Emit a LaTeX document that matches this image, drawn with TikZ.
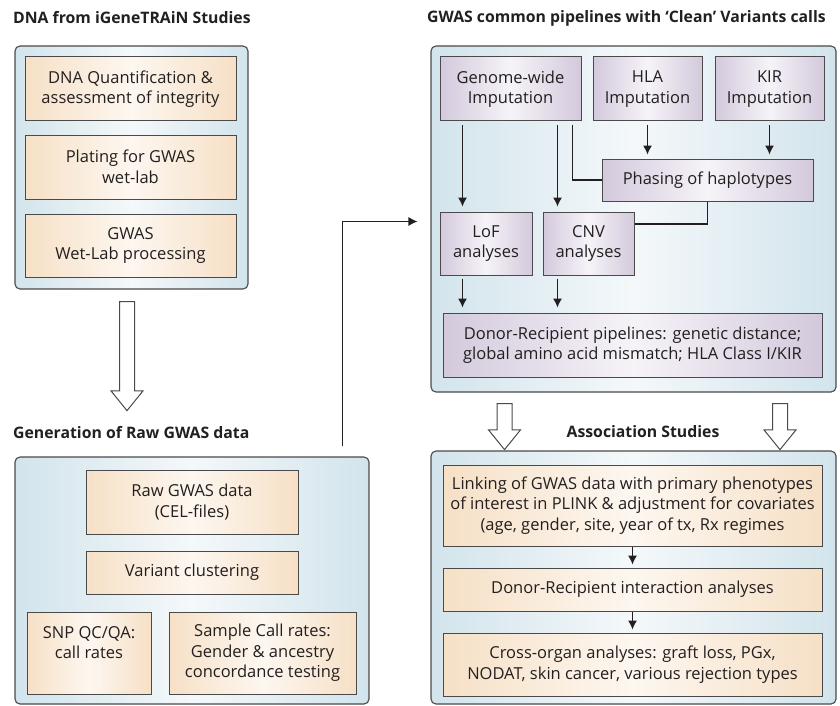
\documentclass[tikz,border=0pt]{standalone}
\usepackage{fontspec}
\setmainfont{Open Sans}
\usepackage{xcolor}
\usepackage{tikz}
\usetikzlibrary{shapes.arrows}
\usetikzlibrary{arrows.meta}
\usetikzlibrary{positioning,calc}

\definecolor{panelblue}{HTML}{D2E4EC}
\definecolor{panelmid}{HTML}{F4F8FA}
\definecolor{boxorange}{HTML}{F6E0C6}
\definecolor{orangemid}{HTML}{FDF7F0}
\definecolor{boxpurple}{HTML}{D3C9DC}
\definecolor{purplemid}{HTML}{F6F3F8}
\definecolor{boxline}{HTML}{4A4A4A}
\definecolor{inktext}{HTML}{231F20}

\newcommand{\boxfont}{\fontsize{16.5}{20.5}\selectfont}
\newcommand{\headfont}{\fontsize{15.8}{18}\selectfont\bfseries}

\tikzset{
  panel/.style={draw=boxline, line width=1.1pt, rounded corners=5pt, left color=panelblue, right color=panelblue, middle color=panelmid},
  orangebox/.style={draw=boxline, line width=1pt, left color=boxorange, right color=boxorange, middle color=orangemid, align=center, inner sep=0pt, font=\boxfont, text=inktext},
  purplebox/.style={draw=boxline, line width=1pt, left color=boxpurple, right color=boxpurple, middle color=purplemid, align=center, inner sep=0pt, font=\boxfont, text=inktext},
  heading/.style={font=\headfont, text=inktext, inner sep=0pt},
  flow/.style={-{Latex[length=9pt,width=9pt]}, line width=1.1pt, draw=inktext},
  plainlink/.style={line width=1.1pt, draw=inktext},
  hollow/.style={single arrow, draw=boxline, fill=white, line width=1pt, rotate=-90, inner sep=7pt, single arrow head extend=8.5pt, single arrow tip angle=78},
}

\begin{document}
\begin{tikzpicture}[x=1pt, y=-1pt]
  \useasboundingbox (0,0) rectangle (840,706);

  % left column
  \node[heading, anchor=west] (dna-title) at (13,18) {DNA from iGeneTRAiN Studies};
  \node[panel, minimum width=233pt, minimum height=243pt] (dna-panel) at (131.5,167.5) {};
  \node[orangebox, minimum width=211pt, minimum height=64pt] (quant) at (130.5,89) {DNA Quantification \&\\assessment of integrity};
  \node[orangebox, minimum width=211pt, minimum height=64pt] (plating) at (130.5,167) {Plating for GWAS\\wet-lab};
  \node[orangebox, minimum width=211pt, minimum height=63pt] (wetlab) at (130.5,245.5) {GWAS\\Wet-Lab processing};

  \node[hollow, minimum height=109pt] (down-raw) at (127,351.5) {};

  \node[heading, anchor=west] (raw-title) at (13,433) {Generation of Raw GWAS data};
  \node[panel, minimum width=354pt, minimum height=247pt] (raw-panel) at (192,580.5) {};
  \node[orangebox, minimum width=212pt, minimum height=64pt] (rawdata) at (192,502) {Raw GWAS data\\(CEL-files)};
  \node[orangebox, minimum width=212pt, minimum height=43pt] (clustering) at (192,572.5) {Variant clustering};
  \node[orangebox, minimum width=124pt, minimum height=82pt] (snpqc) at (89,653) {SNP QC/QA:\\call rates\\\mbox{}};
  \node[orangebox, minimum width=187pt, minimum height=82pt] (samplecall) at (262.5,653) {Sample Call rates:\\Gender \& ancestry\\concordance testing};

  % right column
  \node[heading, anchor=west] (gwas-title) at (427,18) {GWAS common pipelines with `Clean' Variants calls};
  \node[panel, minimum width=405pt, minimum height=346pt] (gwas-panel) at (633.5,219) {};
  \node[purplebox, minimum width=141pt, minimum height=64pt] (genome) at (510.5,89) {Genome-wide\\Imputation};
  \node[purplebox, minimum width=109pt, minimum height=64pt] (hla) at (647.5,89) {HLA\\Imputation};
  \node[purplebox, minimum width=109pt, minimum height=64pt] (kir) at (769.5,89) {KIR\\Imputation};
  \node[purplebox, minimum width=211pt, minimum height=42pt] (phasing) at (707.5,180) {Phasing of haplotypes};
  \node[purplebox, minimum width=92pt, minimum height=63pt] (lof) at (486,243.5) {LoF\\analyses};
  \node[purplebox, minimum width=91pt, minimum height=63pt] (cnv) at (588.5,243.5) {CNV\\analyses};
  \node[purplebox, minimum width=379pt, minimum height=64pt] (pipelines) at (632.5,345) {Donor-Recipient pipelines: genetic distance;\\global amino acid mismatch; HLA Class I/KIR};

  \draw[flow, shorten <=4pt, shorten >=5pt] ([xshift=23pt]genome.south west) -- ([xshift=23pt]lof.north west);
  \draw[flow, shorten <=4pt, shorten >=5pt] ([xshift=118pt]genome.south west) -- ([xshift=15pt]cnv.north west);
  \draw[plainlink, shorten <=4pt] ([xshift=133pt]genome.south west) |- (phasing.west);
  \draw[flow, shorten <=4pt, shorten >=4pt] (hla.south) -- (hla.south |- phasing.north);
  \draw[flow, shorten <=4pt, shorten >=4pt] (kir.south) -- (kir.south |- phasing.north);
  \draw[plainlink] (phasing.south) |- ([yshift=19.5pt]cnv.east);
  \draw[flow, shorten <=3pt, shorten >=5pt] ([xshift=23pt]lof.south west) -- ([xshift=23pt]lof.south west |- pipelines.north);
  \draw[flow, shorten <=3pt, shorten >=5pt] ([xshift=15pt]cnv.south west) -- ([xshift=15pt]cnv.south west |- pipelines.north);

  \node[hollow, minimum height=46pt] (down-left) at (504.5,422) {};
  \node[hollow, minimum height=46pt] (down-right) at (780,422) {};

  \node[heading] (assoc-title) at (643,432) {Association Studies};
  \node[panel, minimum width=405pt, minimum height=253pt] (assoc-panel) at (633.5,577.5) {};
  \node[orangebox, minimum width=379pt, minimum height=81pt] (linking) at (632.5,505.5) {Linking of GWAS data with primary phenotypes\\of interest in PLINK \& adjustment for covariates\\(age, gender, site, year of tx, Rx regimes};
  \node[orangebox, minimum width=379pt, minimum height=43pt] (interaction) at (632.5,589.5) {Donor-Recipient interaction analyses};
  \node[orangebox, minimum width=379pt, minimum height=63pt] (crossorgan) at (632.5,664.5) {Cross-organ analyses: graft loss, PGx,\\NODAT, skin cancer, various rejection types};

  \draw[flow, shorten >=3pt] (linking) -- (interaction);
  \draw[flow, shorten >=3pt] (interaction) -- (crossorgan);

  % raw data feeds the pipelines
  \coordinate[above right=10pt and 328pt of raw-panel.north west] (link-start);
  \coordinate (link-level) at (gwas-panel.west |- lof.north);
  \coordinate[below left=10pt and 13pt of link-level] (link-end);
  \draw[flow] (link-start) |- (link-end);
\end{tikzpicture}
\end{document}
